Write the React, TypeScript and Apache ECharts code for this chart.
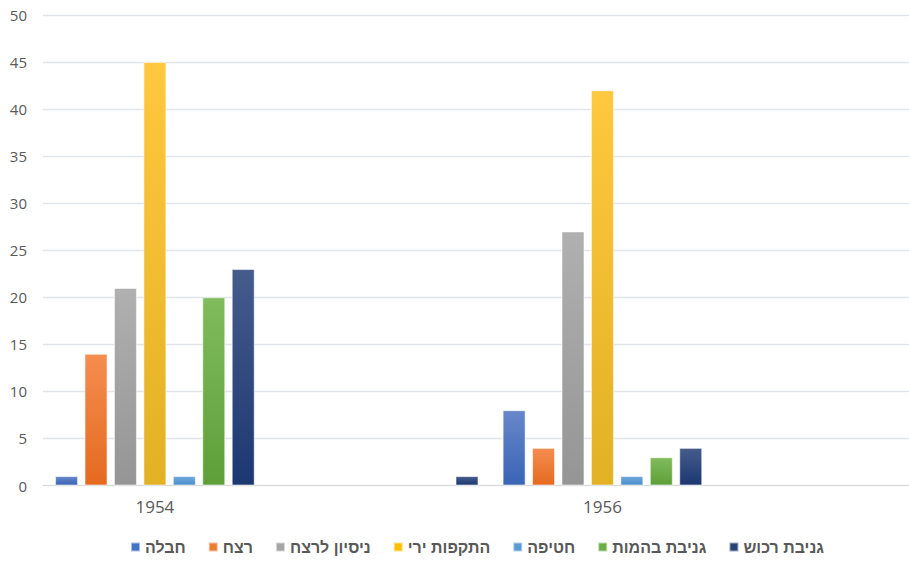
import React, { useEffect, useRef } from "react";
import * as echarts from "echarts";

// ---- data ----
const seriesNames = ["חבלה", "רצח", "ניסיון לרצח", "התקפות ירי", "חטיפה", "גניבת בהמות", "גניבת רכוש"];
const years = [1954, 1955, 1956];
const labelYears = [1954, 1956];
const sabotage = [1, null, 8];
const murder = [14, null, 4];
const attemptedMurder = [21, null, 27];
const shootingAttacks = [45, null, 42];
const kidnapping = [1, null, 1];
const livestockTheft = [20, null, 3];
const propertyTheft = [23, 1, 4];
const yTicks = { min: 0, max: 50, step: 5 };

const seriesValues = [sabotage, murder, attemptedMurder, shootingAttacks, kidnapping, livestockTheft, propertyTheft];

// ---- styles ----
const baseColors = ["#4472C4", "#ED7D31", "#A5A5A5", "#FFC000", "#5B9BD5", "#70AD47", "#264478"];
const topColors = ["#6787CB", "#F48D50", "#B0B0B0", "#FFC83E", "#6EA8DD", "#80BB5C", "#455C8C"];
const bottomColors = ["#3A64B5", "#E56A1F", "#959595", "#E2B124", "#4B8DCB", "#5E9F39", "#1C3871"];

export default function App() {
  const ref = useRef<HTMLDivElement>(null);

  useEffect(() => {
    if (!ref.current) return;
    const chart = echarts.init(ref.current, undefined, { renderer: "svg" });
    const textColor = "#595959";
    const option: any = {
      animation: false,
      backgroundColor: "#ffffff",
      grid: {
        left: 43,
        right: 0,
        top: 15,
        bottom: 88.5,
        containLabel: false,
        outerBoundsMode: "none",
      },
      legend: {
        left: 130,
        top: 539,
        padding: 0,
        icon: "rect",
        itemWidth: 9,
        itemHeight: 9,
        itemGap: 22,
        selectedMode: false,
        textStyle: {
          color: textColor,
          fontSize: 16,
          fontWeight: "bold",
          fontFamily: "Liberation Sans, Arial, sans-serif",
        },
        data: seriesNames.map((n, i) => ({ name: n, itemStyle: { color: baseColors[i] } })),
      },
      xAxis: {
        type: "value",
        min: 1953.5,
        max: 1957.37,
        splitLine: { show: false },
        axisTick: { show: false },
        axisLine: { show: true, lineStyle: { color: "#D9D9D9", width: 1 } },
        axisLabel: {
          customValues: labelYears,
          formatter: (v: number) => String(v),
          color: textColor,
          fontSize: 17,
          margin: 12,
          fontFamily: "Open Sans, sans-serif",
        },
      },
      yAxis: {
        type: "value",
        min: yTicks.min,
        max: yTicks.max,
        interval: yTicks.step,
        axisLine: { show: false },
        axisTick: { show: false },
        splitLine: { lineStyle: { color: "#E1E5EA", width: 1.3 } },
        axisLabel: {
          color: textColor,
          fontSize: 15,
          margin: 16,
          fontFamily: "Open Sans, sans-serif",
        },
      },
      series: seriesNames.map((name, i) => ({
        name,
        type: "bar",
        barWidth: 23,
        barGap: "28%",
        itemStyle: {
          color: {
            type: "linear",
            x: 0,
            y: 0,
            x2: 0,
            y2: 1,
            colorStops: [
              { offset: 0, color: topColors[i] },
              { offset: 1, color: bottomColors[i] },
            ],
          },
          borderColor: "rgba(255,255,255,0.55)",
          borderWidth: 1,
        },
        data: years
          .map((y, j) => [y, seriesValues[i][j]])
          .filter((d) => d[1] !== null),
      })),
    };
    chart.setOption(option);
    return () => chart.dispose();
  }, []);

  return (
    <div
      ref={ref}
      style={{ position: "fixed", left: 0, top: 0, width: 909, height: 574, background: "#fff" }}
    />
  );
}
